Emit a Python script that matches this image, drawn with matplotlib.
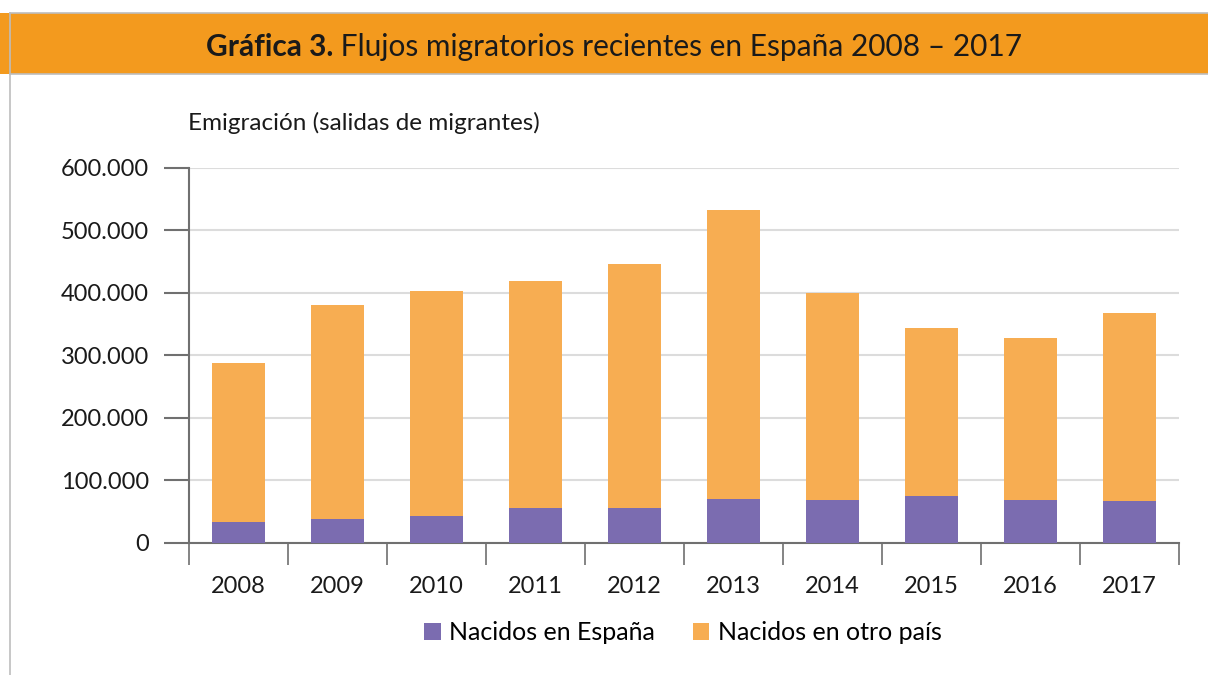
import matplotlib
matplotlib.use("Agg")
import matplotlib.pyplot as plt
import numpy as np
from matplotlib.lines import Line2D
from matplotlib.patches import Rectangle
from matplotlib.ticker import FuncFormatter, FixedLocator

plt.rcParams['font.family'] = ['Lato', 'DejaVu Sans']

years = ["2008", "2009", "2010", "2011", "2012", "2013", "2014", "2015", "2016", "2017"]
born_spain = [33500, 38000, 43000, 55700, 55800, 70000, 68500, 75000, 68600, 67000]
total_emigration = [287700, 380500, 402900, 418900, 446000, 532500, 399700, 343700, 327700, 367700]
born_abroad = [t - s for t, s in zip(total_emigration, born_spain)]

series_names = ["Nacidos en España", "Nacidos en otro país"]
purple = "#7B6CB0"
orange = "#F7AD52"
band = "#F39A1E"

W, H = 1208, 675
fig = plt.figure(figsize=(W / 100, H / 100), dpi=100)
fig.patch.set_facecolor("white")

# Header band with the chart title
fig.patches.append(Rectangle((0, 1 - 74 / H), 1, 61 / H, transform=fig.transFigure,
                             facecolor=band, edgecolor="none", zorder=0))
for y in (13, 74):
    fig.lines.append(Line2D([10 / W, 1], [1 - y / H, 1 - y / H], transform=fig.transFigure,
                            color="#BDBDBD", lw=1.2))
fig.lines.append(Line2D([10 / W, 10 / W], [0, 1 - 13 / H], transform=fig.transFigure,
                        color="#BDBDBD", lw=1.2))

t_bold = fig.text(0, 1 - 47 / H, "Gráfica 3.", fontsize=21.5, fontweight="bold",
                  va="center", ha="left", color="#1a1a1a")
t_reg = fig.text(0, 1 - 47 / H, " Flujos migratorios recientes en España 2008 – 2017",
                 fontsize=21.5, va="center", ha="left", color="#1a1a1a")
fig.canvas.draw()
r = fig.canvas.get_renderer()
wb = t_bold.get_window_extent(r).width
wr = t_reg.get_window_extent(r).width
x0 = 614 - (wb + wr) / 2
t_bold.set_x(x0 / W)
t_reg.set_x((x0 + wb) / W)

ax = fig.add_axes([189 / W, 1 - 542.8 / H, (1179 - 189) / W, (542.8 - 167.8) / H])
x = np.arange(len(years))
bw = 0.535
ax.bar(x, born_spain, width=bw, color=purple, label=series_names[0], zorder=3)
ax.bar(x, born_abroad, width=bw, bottom=born_spain, color=orange, label=series_names[1], zorder=3)

ax.set_xlim(-0.5, len(years) - 0.5)
ax.set_ylim(0, 600000)
ax.yaxis.set_major_locator(FixedLocator(np.arange(0, 600001, 100000)))
ax.yaxis.set_major_formatter(FuncFormatter(lambda v, p: f"{int(v):,}".replace(",", ".")))
ax.grid(axis="y", color="#DCDCDC", lw=1.5, zorder=0)
ax.set_axisbelow(True)

ax.set_xticks(x)
ax.set_xticklabels(years)
ax.set_xticks(np.arange(-0.5, len(years)), minor=True)
ax.tick_params(axis="x", which="major", length=0, pad=24, labelsize=17, labelcolor="#1a1a1a")
ax.tick_params(axis="x", which="minor", length=16, width=1.2, color="#707070", direction="out")
ax.tick_params(axis="y", length=18, width=1.5, color="#707070", pad=11, labelsize=17,
               labelcolor="#1a1a1a")
for s in ("top", "right"):
    ax.spines[s].set_visible(False)
for s in ("left", "bottom"):
    ax.spines[s].set_color("#707070")
    ax.spines[s].set_linewidth(1.5)

fig.text(188 / W, 1 - 123 / H, "Emigración (salidas de migrantes)", fontsize=17.5,
         va="center", ha="left", color="#1a1a1a")

fig.legend(loc="center", bbox_to_anchor=(683 / W, 1 - 633 / H), ncol=2, frameon=False,
           fontsize=18, handlelength=0.65, handleheight=0.65, handletextpad=0.35,
           columnspacing=1.5)

fig.savefig("out.png", dpi=100, facecolor="white")
